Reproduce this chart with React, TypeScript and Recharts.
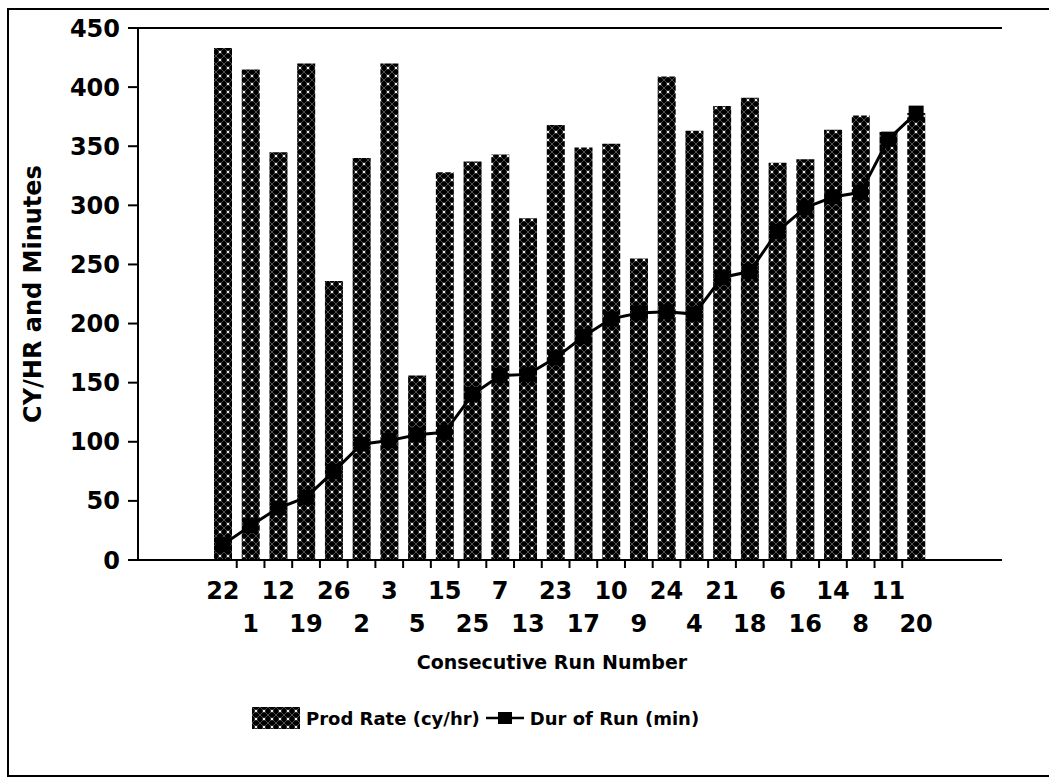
import React from "react";
import {
  ComposedChart,
  Bar,
  Line,
  XAxis,
  YAxis,
  CartesianGrid,
  Legend,
} from "recharts";

const runNumbers = [
  "22", "1", "12", "19", "26", "2", "3", "5", "15", "25", "7", "13", "23",
  "17", "10", "9", "24", "4", "21", "18", "6", "16", "14", "8", "11", "20",
];
const prodRate = [
  433, 415, 345, 420, 236, 340, 420, 156, 328, 337, 343, 289, 368,
  349, 352, 255, 409, 363, 384, 391, 336, 339, 364, 376, 362, 378,
];
const durOfRun = [
  13, 29, 44, 53, 75, 98, 101, 106, 108, 140, 156, 157, 171,
  189, 204, 209, 210, 208, 239, 244, 278, 298, 307, 311, 356, 378,
];
const yTicks = [0, 50, 100, 150, 200, 250, 300, 350, 400, 450];

const FONT = "'DejaVu Sans', sans-serif";
const W = 1049;
const H = 777;
const PLOT_LEFT = 138;
const PLOT_RIGHT = 1002;
const PAD_L = 71;
const PAD_R = 72;
const HALF_BAND =
  (PLOT_RIGHT - PLOT_LEFT - PAD_L - PAD_R) / runNumbers.length / 2;

const data = runNumbers.map((run, i) => ({
  run,
  prod: prodRate[i],
  dur: durOfRun[i],
}));

function Hatch({ id }: { id: string }) {
  return (
    <pattern id={id} width="8" height="8" patternUnits="userSpaceOnUse">
      <rect width="8" height="8" fill="#000" />
      <path d="M0 0 L8 8 M8 0 L0 8" stroke="#6e6e6e" strokeWidth="0.7" />
      <path d="M4 2.4 L5.6 4 L4 5.6 L2.4 4 Z" fill="#fff" />
    </pattern>
  );
}

const XTick = (props: any) => {
  const { x, y, payload } = props;
  const i = payload.index;
  return (
    <g>
      {i < runNumbers.length - 1 && (
        <line
          x1={x + HALF_BAND}
          x2={x + HALF_BAND}
          y1={y}
          y2={y + 8}
          stroke="#000"
          strokeWidth={2}
        />
      )}
      <text
        x={x}
        y={y + (i % 2 === 0 ? 31 : 64)}
        textAnchor="middle"
        dominantBaseline="central"
        fontFamily={FONT}
        fontWeight="bold"
        fontSize={24}
        fill="#000"
      >
        {payload.value}
      </text>
    </g>
  );
};

const SquareDot = (props: any) => {
  const { cx, cy, index } = props;
  if (cx == null || cy == null) return null;
  return <rect key={index} x={cx - 7.5} y={cy - 7.5} width={15} height={15} fill="#000" />;
};

const LegendContent = () => (
  <div
    style={{
      display: "flex",
      alignItems: "center",
      fontFamily: FONT,
      fontWeight: "bold",
      fontSize: 18,
      color: "#000",
      whiteSpace: "nowrap",
    }}
  >
    <svg width={48} height={22} style={{ marginRight: 6 }}>
      <defs>
        <Hatch id="hatchLegend" />
      </defs>
      <rect width={48} height={22} fill="url(#hatchLegend)" />
    </svg>
    <span>Prod Rate (cy/hr)</span>
    <svg width={38} height={14} style={{ margin: "0 6px" }}>
      <line x1={0} x2={38} y1={7} y2={7} stroke="#000" strokeWidth={2.5} />
      <rect x={12} y={1} width={14} height={12} fill="#000" />
    </svg>
    <span>Dur of Run (min)</span>
  </div>
);

export default function App() {
  return (
    <div
      style={{
        position: "absolute",
        left: 0,
        top: 0,
        width: W,
        height: H,
        background: "#fff",
      }}
    >
      <div
        style={{
          position: "absolute",
          left: 7,
          top: 8,
          width: 1040,
          height: 765,
          border: "2px solid #000",
        }}
      />
      <ComposedChart
        width={W}
        height={H}
        data={data}
        margin={{ top: 28, right: W - PLOT_RIGHT, bottom: 102, left: 38 }}
      >
        <defs>
          <Hatch id="hatchBar" />
        </defs>
        <CartesianGrid vertical={false} stroke="#000" strokeWidth={2} />
        <XAxis
          dataKey="run"
          interval={0}
          height={115}
          padding={{ left: PAD_L, right: PAD_R }}
          tickLine={false}
          tickSize={0}
          tickMargin={0}
          axisLine={{ stroke: "#000", strokeWidth: 2 }}
          tick={<XTick />}
          label={{
            value: "Consecutive Run Number",
            position: "insideBottom",
            offset: 6,
            fontFamily: FONT,
            fontWeight: "bold",
            fontSize: 19,
            fill: "#000",
            dx: -18,
          }}
        />
        <YAxis
          yAxisId="left"
          width={100}
          domain={[0, 450]}
          ticks={yTicks}
          interval={0}
          tickSize={10}
          tickMargin={8}
          axisLine={{ stroke: "#000", strokeWidth: 2 }}
          tickLine={{ stroke: "#000", strokeWidth: 2 }}
          tick={{ fontFamily: FONT, fontWeight: "bold", fontSize: 24, fill: "#000" }}
          label={{
            value: "CY/HR and Minutes",
            angle: -90,
            position: "insideLeft",
            offset: -6,
            style: { textAnchor: "middle" },
            fontFamily: FONT,
            fontWeight: "bold",
            fontSize: 24,
            fill: "#000",
          }}
        />
        <YAxis
          yAxisId="right"
          orientation="right"
          width={0}
          domain={[0, 450]}
          tick={false}
          tickLine={false}
          axisLine={{ stroke: "#000", strokeWidth: 2 }}
        />
        <Bar
          yAxisId="left"
          dataKey="prod"
          name="Prod Rate (cy/hr)"
          barSize={18}
          fill="url(#hatchBar)"
          isAnimationActive={false}
        />
        <Line
          yAxisId="left"
          dataKey="dur"
          name="Dur of Run (min)"
          stroke="#000"
          strokeWidth={3}
          dot={<SquareDot />}
          activeDot={false}
          isAnimationActive={false}
        />
        <Legend
          layout="horizontal"
          verticalAlign="middle"
          align="center"
          wrapperStyle={{ top: 707, left: 252, width: 480 }}
          content={<LegendContent />}
        />
      </ComposedChart>
    </div>
  );
}
